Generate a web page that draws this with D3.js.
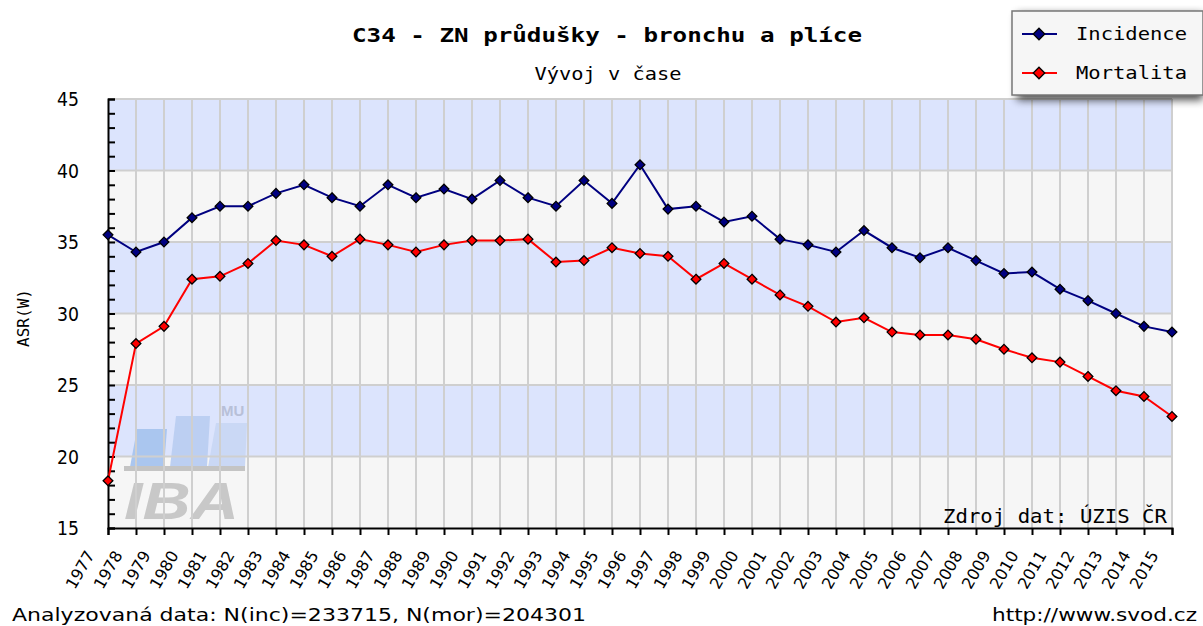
<!DOCTYPE html>
<html><head><meta charset="utf-8">
<script src="https://cdn.jsdelivr.net/npm/d3@7"></script>
<style>body{margin:0;background:#fff}svg{display:block}</style>
</head><body>
<script>
const years = d3.range(1977, 2016);
const incidence = [35.5,34.3,35.0,36.7,37.5,37.5,38.4,39.0,38.1,37.5,39.0,38.1,38.7,38.0,39.3,38.1,37.5,39.3,37.7,40.4,37.3,37.5,36.4,36.8,35.2,34.8,34.3,35.8,34.6,33.9,34.6,33.7,32.8,32.9,31.7,30.9,30.0,29.1,28.7];
const mortality = [18.3,27.9,29.1,32.4,32.6,33.5,35.1,34.8,34.0,35.2,34.8,34.3,34.8,35.1,35.1,35.2,33.6,33.7,34.6,34.2,34.0,32.4,33.5,32.4,31.3,30.5,29.4,29.7,28.7,28.5,28.5,28.2,27.5,26.9,26.6,25.6,24.6,24.2,22.8];
const yTicks = [15,20,25,30,35,40,45];
const seriesNames = ["Incidence","Mortalita"];
const seriesColors = ["#000080","#ff0000"];

const W=1203,H=626;
const svg=d3.select("body").append("svg").attr("width",W).attr("height",H);
const x=d3.scaleLinear().domain([1977,2015]).range([108,1172]);
const y=d3.scaleLinear().domain([15,45]).range([528,99]);

// bands
const bands=d3.range(15,45,5);
svg.selectAll("rect.band").data(bands).enter().append("rect")
  .attr("x",108).attr("width",1172-108)
  .attr("y",d=>y(d+5)).attr("height",d=>y(d)-y(d+5))
  .attr("fill",(d,i)=> (i%2===0)?"#f6f6f6":"#dce4fd");

// watermark
const wm=svg.append("g");
wm.append("path").attr("d","M137,429 L167,429 L164,467 L130,467 Z").attr("fill","#aac6ef");
wm.append("path").attr("d","M176,416 L210,416 L207,467 L170,467 Z").attr("fill","#bccff2");
wm.append("path").attr("d","M216,423 L247,423 L245,467 L208,467 Z").attr("fill","#cad8f5");
wm.append("rect").attr("x",124).attr("y",466).attr("width",121).attr("height",5).attr("fill","#c4c4c4");
wm.append("text").attr("x",124).attr("y",519).text("IBA").attr("font-family","Liberation Sans, Arial").attr("font-weight","bold").attr("font-style","italic").attr("font-size",52).attr("fill","#c8c8c8").attr("textLength",115).attr("lengthAdjust","spacingAndGlyphs");
wm.append("text").attr("x",221).attr("y",416).text("MU").attr("font-family","Liberation Sans, Arial").attr("font-weight","bold").attr("font-size",15).attr("fill","#b8c0d8");

// grid
svg.selectAll("line.vg").data(years.slice(1)).enter().append("line")
  .attr("x1",d=>x(d)).attr("x2",d=>x(d)).attr("y1",99).attr("y2",528)
  .attr("stroke","#cfcfcf").attr("stroke-width",2);
svg.selectAll("line.hg").data(yTicks.slice(1)).enter().append("line")
  .attr("x1",108).attr("x2",1172).attr("y1",d=>y(d)).attr("y2",d=>y(d))
  .attr("stroke","#cfcfcf").attr("stroke-width",2);

// y axis
const yAxis=d3.axisRight(y).tickValues(d3.range(15,46,1)).tickSize(7).tickFormat("");
const ga=svg.append("g").attr("transform","translate(108,0)").call(yAxis);
ga.select(".domain").attr("stroke","#000").attr("stroke-width",2);
ga.selectAll(".tick line").attr("stroke","#000").attr("stroke-width",2);
svg.selectAll("text.yl").data(yTicks).enter().append("text")
  .attr("x",79).attr("y",d=>y(d)+7).attr("text-anchor","end")
  .attr("font-family","DejaVu Sans, sans-serif").attr("font-size",19).attr("fill","#000")
  .attr("textLength",22).attr("lengthAdjust","spacingAndGlyphs").text(d=>d);
svg.append("text").attr("transform","translate(29,318) rotate(-90)").attr("text-anchor","middle")
  .attr("font-family","DejaVu Sans Mono, monospace").attr("font-size",16).text("ASR(W)");

// x axis
const xAxis=d3.axisBottom(x).tickValues(years).tickSize(7).tickFormat("");
const gx=svg.append("g").attr("transform","translate(0,528)").call(xAxis);
gx.select(".domain").attr("stroke","#000").attr("stroke-width",2);
gx.selectAll(".tick line").attr("stroke","#000").attr("stroke-width",2);
svg.selectAll("text.xl").data(years).enter().append("text")
  .attr("transform",d=>`translate(${x(d)-13},555) rotate(-60)`).attr("text-anchor","end")
  .attr("font-family","DejaVu Sans, sans-serif").attr("font-size",16).attr("fill","#000").text(d=>d);

// lines
const line=d3.line().x((d,i)=>x(years[i])).y(d=>y(d));
const diamond=d3.symbol().type(d3.symbolDiamond2).size(60);
[incidence,mortality].forEach((data,k)=>{
  svg.append("path").datum(data).attr("d",line).attr("fill","none").attr("stroke",seriesColors[k]).attr("stroke-width",2);
  svg.selectAll(null).data(data).enter().append("path")
    .attr("d",diamond).attr("transform",(d,i)=>`translate(${x(years[i])},${y(d)})`)
    .attr("fill",seriesColors[k]).attr("stroke","#000").attr("stroke-width",1.3);
});

// source
svg.append("text").attr("x",1167).attr("y",523).attr("text-anchor","end")
  .attr("font-family","DejaVu Sans Mono, monospace").attr("font-size",20)
  .attr("textLength",224).attr("lengthAdjust","spacingAndGlyphs").text("Zdroj dat: ÚZIS ČR");

// titles
svg.append("text").attr("x",607).attr("y",42).attr("text-anchor","middle")
  .attr("font-family","DejaVu Sans Mono, monospace").attr("font-weight","bold").attr("font-size",20)
  .attr("textLength",510).attr("lengthAdjust","spacingAndGlyphs").text("C34 - ZN průdušky - bronchu a plíce");
svg.append("text").attr("x",608).attr("y",80).attr("text-anchor","middle")
  .attr("font-family","DejaVu Sans Mono, monospace").attr("font-size",18)
  .attr("textLength",147).attr("lengthAdjust","spacingAndGlyphs").text("Vývoj v čase");

// bottom text
svg.append("text").attr("x",12).attr("y",621).attr("font-family","DejaVu Sans, sans-serif").attr("font-size",18)
  .attr("textLength",574).attr("lengthAdjust","spacingAndGlyphs").text("Analyzovaná data: N(inc)=233715, N(mor)=204301");
svg.append("text").attr("x",1197).attr("y",621).attr("text-anchor","end").attr("font-family","DejaVu Sans, sans-serif").attr("font-size",18)
  .attr("textLength",205).attr("lengthAdjust","spacingAndGlyphs").text("http://www.svod.cz");

// legend
const lg=svg.append("g");
const defs=svg.append("defs");
const f=defs.append("filter").attr("id","sh").attr("x","-10%").attr("y","-10%").attr("width","130%").attr("height","140%");
f.append("feGaussianBlur").attr("in","SourceAlpha").attr("stdDeviation",4);
lg.append("rect").attr("x",1017).attr("y",14).attr("width",186).attr("height",86).attr("fill","#888").attr("opacity",0.7).attr("filter","url(#sh)");
lg.append("rect").attr("x",1012).attr("y",11).attr("width",191).attr("height",84).attr("fill","#f6f6f6").attr("stroke","#777").attr("stroke-width",1.5);
seriesNames.forEach((n,k)=>{
  const cy=34+k*39;
  lg.append("line").attr("x1",1022).attr("x2",1057).attr("y1",cy).attr("y2",cy).attr("stroke",seriesColors[k]).attr("stroke-width",2);
  lg.append("path").attr("d",d3.symbol().type(d3.symbolDiamond2).size(85)).attr("transform",`translate(1039,${cy})`)
    .attr("fill",seriesColors[k]).attr("stroke","#000").attr("stroke-width",1.3);
  lg.append("text").attr("x",1076).attr("y",cy+6).attr("font-family","DejaVu Sans Mono, monospace").attr("font-size",18)
    .attr("textLength",111).attr("lengthAdjust","spacingAndGlyphs").text(n);
});
</script>
</body></html>
